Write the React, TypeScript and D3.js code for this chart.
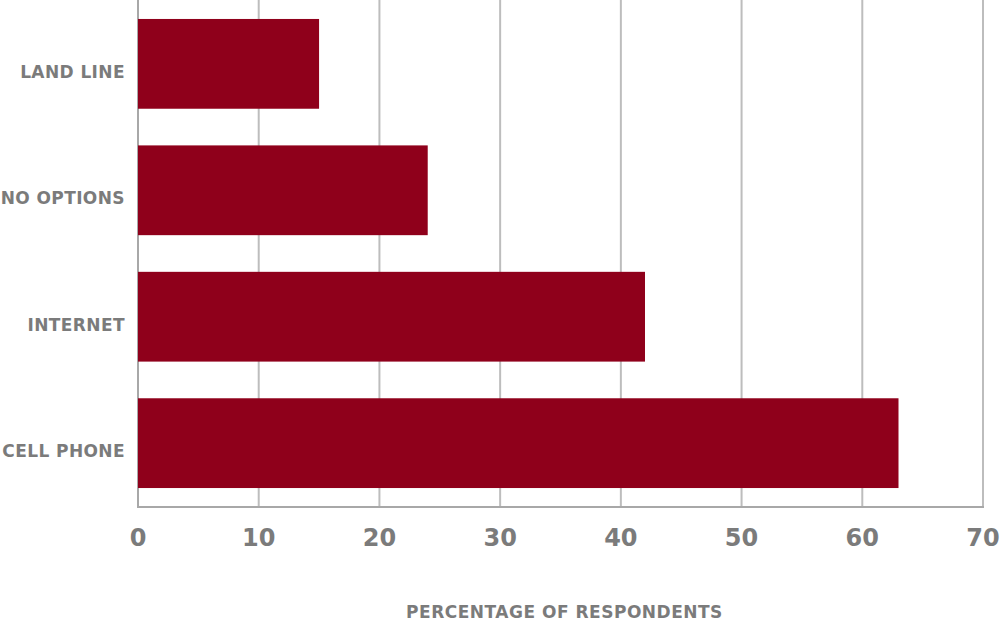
import React from "react";
import * as d3 from "d3";

const categories = ["LAND LINE", "NO OPTIONS", "INTERNET", "CELL PHONE"];
const values = [15, 24, 42, 63];
const xTicks = [0, 10, 20, 30, 40, 50, 60, 70];
const xTitle = "PERCENTAGE OF RESPONDENTS";

const W = 1000;
const H = 621;
const FONT = "'DejaVu Sans', Verdana, sans-serif";

export default function App() {
  const x = d3.scaleLinear().domain([0, 70]).range([138, 983]);
  const y = d3
    .scaleBand<string>()
    .domain(categories)
    .range([0, 507])
    .paddingInner(0.29)
    .paddingOuter(0.15);

  const gridColor = "#bdbdbd";
  const textColor = "#7b7b7b";
  const barColor = "#8f001b";

  return (
    <svg
      width={W}
      height={H}
      style={{ position: "absolute", left: 0, top: 0, background: "#fff" }}
    >
      {xTicks.map((t) => (
        <line
          key={"g" + t}
          x1={x(t)}
          x2={x(t)}
          y1={0}
          y2={507}
          stroke={t === 0 ? "#a8a8a8" : gridColor}
          strokeWidth={2}
        />
      ))}
      <line x1={x(0) - 1} x2={x(70) + 1} y1={507} y2={507} stroke="#a8a8a8" strokeWidth={2} />
      {categories.map((c, i) => (
        <rect
          key={c}
          x={x(0)}
          y={y(c)}
          width={x(values[i]) - x(0)}
          height={y.bandwidth()}
          fill={barColor}
        />
      ))}
      {categories.map((c) => (
        <text
          key={"l" + c}
          x={125}
          y={(y(c) as number) + y.bandwidth() / 2 + 8}
          dy="0.35em"
          textAnchor="end"
          fontFamily={FONT}
          fontWeight="bold"
          fontSize={17}
          letterSpacing={0.4}
          fill={textColor}
        >
          {c}
        </text>
      ))}
      {xTicks.map((t) => (
        <text
          key={"t" + t}
          x={x(t)}
          y={538}
          dy="0.35em"
          textAnchor="middle"
          fontFamily={FONT}
          fontWeight="bold"
          fontSize={24}
          fill={textColor}
        >
          {t}
        </text>
      ))}
      <text
        x={(x(0) + x(70)) / 2 + 4}
        y={612}
        dy="0.35em"
        textAnchor="middle"
        fontFamily={FONT}
        fontWeight="bold"
        fontSize={17}
        letterSpacing={0.5}
        fill={textColor}
      >
        {xTitle}
      </text>
    </svg>
  );
}
